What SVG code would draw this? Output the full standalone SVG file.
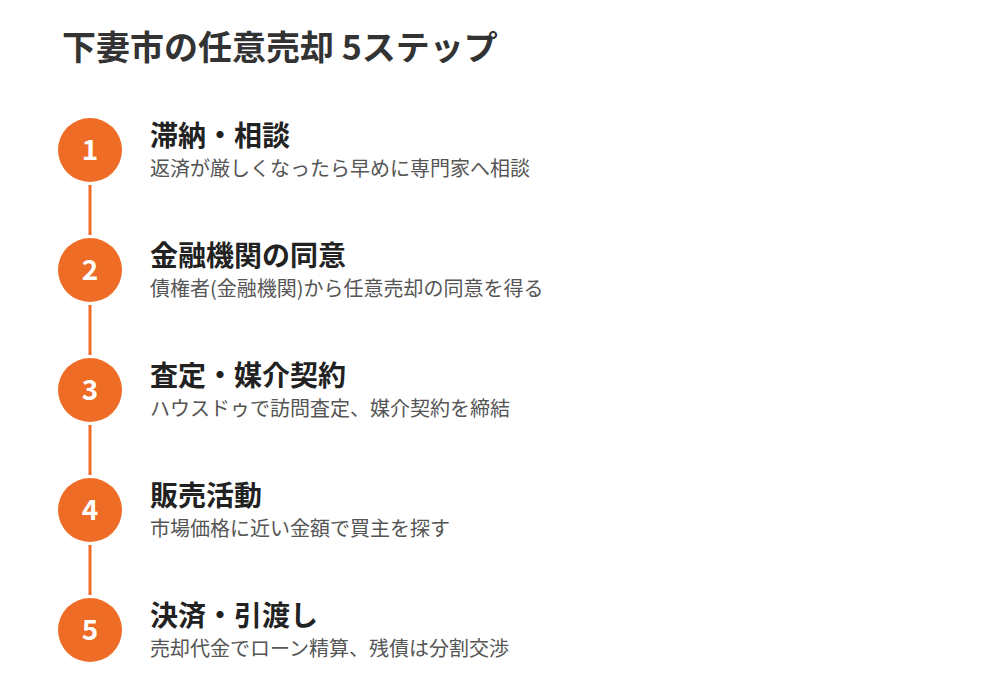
<svg xmlns="http://www.w3.org/2000/svg" width="1000" height="700" viewBox="0 0 1000 700">
<style>
text{font-family:"Noto Sans CJK JP","Noto Sans",sans-serif}
.title{font-size:34px;font-weight:700;fill:#333}
.num{font-size:28px;font-weight:700;fill:#fff;text-anchor:middle}
.h{font-size:28px;font-weight:700;fill:#222}
.d{font-size:20px;fill:#555}
.c{fill:#EE6C26}
.ln{stroke:#EE6C26;stroke-width:3}
</style>
<rect width="1000" height="700" fill="#fff"/>
<text class="title" x="62" y="60">下妻市の任意売却 5ステップ</text>
<g id="connectors">
<line class="ln" x1="90" y1="185" x2="90" y2="235"/>
<line class="ln" x1="90" y1="305" x2="90" y2="355"/>
<line class="ln" x1="90" y1="425" x2="90" y2="475"/>
<line class="ln" x1="90" y1="545" x2="90" y2="595"/>
</g>
<g id="step1"><circle class="c" cx="90" cy="150" r="32"/><text class="num" x="90" y="160">1</text><text class="h" x="150" y="146">滞納・相談</text><text class="d" x="150" y="176">返済が厳しくなったら早めに専門家へ相談</text></g>
<g id="step2"><circle class="c" cx="90" cy="270" r="32"/><text class="num" x="90" y="280">2</text><text class="h" x="150" y="266">金融機関の同意</text><text class="d" x="150" y="296">債権者(金融機関)から任意売却の同意を得る</text></g>
<g id="step3"><circle class="c" cx="90" cy="390" r="32"/><text class="num" x="90" y="400">3</text><text class="h" x="150" y="386">査定・媒介契約</text><text class="d" x="150" y="416">ハウスドゥで訪問査定、媒介契約を締結</text></g>
<g id="step4"><circle class="c" cx="90" cy="510" r="32"/><text class="num" x="90" y="520">4</text><text class="h" x="150" y="506">販売活動</text><text class="d" x="150" y="536">市場価格に近い金額で買主を探す</text></g>
<g id="step5"><circle class="c" cx="90" cy="630" r="32"/><text class="num" x="90" y="640">5</text><text class="h" x="150" y="626">決済・引渡し</text><text class="d" x="150" y="656">売却代金でローン精算、残債は分割交渉</text></g>
</svg>
